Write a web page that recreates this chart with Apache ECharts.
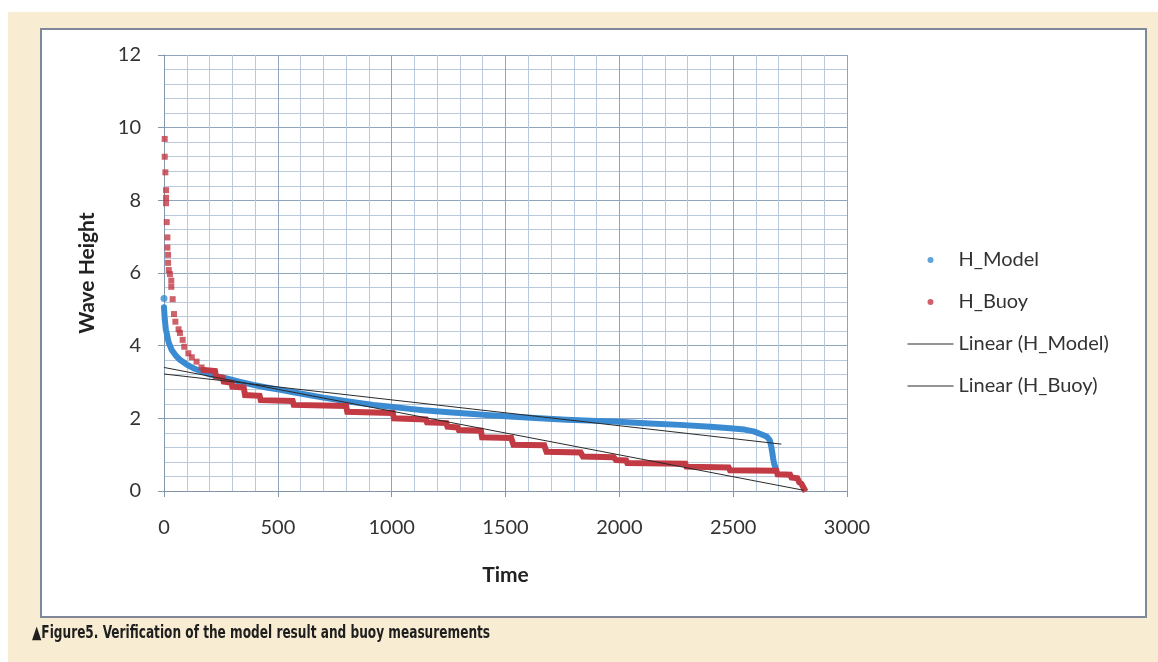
<!DOCTYPE html>
<html>
<head>
<meta charset="utf-8">
<script src="https://cdn.jsdelivr.net/npm/echarts@6/dist/echarts.min.js"></script>
<style>
html,body{margin:0;padding:0;background:#fff;}
#chart{width:1158px;height:662px;}
</style>
</head>
<body>
<div id="chart"></div>
<script>
// ---- data ----
const xTicks = [0, 500, 1000, 1500, 2000, 2500, 3000];
const yTicks = [0, 2, 4, 6, 8, 10, 12];

// H_Model (blue): isolated top point + dense sorted band (corner points)
const modelPeaks = [[0, 5.30]];
const modelBand = [
  [0,5.06],[3,4.75],[8,4.45],[12,4.34],[20,4.10],[34,3.88],[50,3.74],[70,3.61],
  [100,3.48],[129,3.38],[160,3.30],[187,3.24],[230,3.16],[275,3.10],[330,3.01],
  [392,2.92],[450,2.85],[506,2.79],[568,2.72],[700,2.57],[802,2.47],[919,2.37],
  [1007,2.31],[1080,2.26],[1139,2.22],[1250,2.17],[1329,2.13],[1417,2.09],
  [1519,2.05],[1650,2.00],[1768,1.96],[1900,1.93],[1973,1.91],[2134,1.86],
  [2266,1.82],[2400,1.77],[2486,1.73],[2550,1.69],[2590,1.64],[2620,1.57],
  [2647,1.50],[2661,1.40],[2668,1.20],[2672,1.05],[2676,0.88],[2680,0.75],[2686,0.64]
];

// H_Buoy (red): sparse peak points + stepped band (corner points)
const buoyPeaks = [
  [3,9.69],[3,9.20],[6,8.77],[9,8.28],[9,8.07],[9,7.92],[12,7.40],[15,6.98],
  [15,6.70],[18,6.50],[18,6.28],[21,6.08],[26,5.97],[32,5.79],[32,5.62],[38,5.28],
  [44,4.87],[50,4.66],[64,4.45],[70,4.35],[82,4.16],[89,3.97],[107,3.79],[122,3.68],
  [143,3.56],[165,3.40]
];
const buoyBand = [
  [175,3.33],[224,3.30],[228,3.15],[258,3.12],[262,3.01],[297,2.98],[300,2.87],
  [350,2.85],[356,2.64],[420,2.62],[425,2.50],[565,2.48],[570,2.37],[800,2.34],
  [805,2.18],[1005,2.15],[1010,2.00],[1150,1.97],[1155,1.89],[1240,1.87],[1245,1.77],
  [1290,1.75],[1295,1.68],[1392,1.66],[1397,1.48],[1525,1.46],[1535,1.27],[1670,1.26],
  [1680,1.08],[1830,1.06],[1840,0.95],[1975,0.93],[1985,0.85],[2030,0.84],[2035,0.77],
  [2290,0.75],[2295,0.67],[2480,0.65],[2486,0.57],[2690,0.56],[2695,0.46],[2750,0.45],
  [2756,0.37],[2782,0.35],[2790,0.24],[2800,0.20],[2812,0.06]
];

// Linear trendlines (end points)
const modelTrend = [[0, 3.22], [2712, 1.29]];
const buoyTrend = [[0, 3.40], [2810, 0.02]];

const seriesNames = ['H_Model', 'H_Buoy', 'Linear (H_Model)', 'Linear (H_Buoy)'];
const captionText = '\u25B2Figure5. Verification of the model result and buoy measurements';

// ---- chart ----
const BLUE = '#3a8bd2';
const RED = '#c23a44';
const FONT = 'Lato, "Open Sans", sans-serif';

const chart = echarts.init(document.getElementById('chart'), null, {renderer: 'canvas'});
chart.setOption({
  animation: false,
  backgroundColor: '#ffffff',
  graphic: [
    {type: 'rect', z: -20, silent: true, shape: {x: 8, y: 12, width: 1150, height: 650}, style: {fill: '#f8edd3'}},
    {type: 'rect', z: -19, silent: true, shape: {x: 41, y: 29, width: 1105, height: 588}, style: {fill: '#ffffff', stroke: '#7f8899', lineWidth: 2}},
    {type: 'text', z: 10, x: 32, y: 624, scaleX: 0.75, originX: 0, originY: 0,
      style: {text: captionText, fill: '#1e1e1e',
      font: 'bold 18px "Liberation Sans Narrow", "DejaVu Sans Condensed", "Liberation Sans", sans-serif'}}
  ],
  grid: {left: 164, right: 311, top: 55, bottom: 171, containLabel: false},
  legend: {
    orient: 'vertical', left: 902, top: 245,
    itemWidth: 46, itemHeight: 6, itemGap: 22, itemTextGap: 5,
    textStyle: {fontFamily: FONT, fontSize: 20, color: '#333', lineHeight: 20},
    lineStyle: {width: 1},
    data: [
      {name: seriesNames[0], icon: 'circle'},
      {name: seriesNames[1], icon: 'circle'},
      {name: seriesNames[2], itemStyle: {opacity: 0}},
      {name: seriesNames[3], itemStyle: {opacity: 0}}
    ]
  },
  xAxis: {
    type: 'value', min: xTicks[0], max: xTicks[xTicks.length - 1], interval: 500,
    name: 'Time', nameLocation: 'middle', nameGap: 74,
    nameTextStyle: {fontFamily: FONT, fontSize: 21, fontWeight: 'bold', color: '#222'},
    axisLine: {show: true, lineStyle: {color: '#8496ab', width: 1}},
    axisTick: {show: true, length: 6, lineStyle: {color: '#8496ab'}},
    axisLabel: {fontFamily: FONT, fontSize: 20, color: '#333', margin: 27, formatter: v => String(v)},
    splitLine: {show: true, lineStyle: {color: '#90a5bd', width: 1}},
    minorTick: {show: false, splitNumber: 5},
    minorSplitLine: {show: true, lineStyle: {color: '#b8c9db', width: 1}}
  },
  yAxis: {
    type: 'value', min: yTicks[0], max: yTicks[yTicks.length - 1], interval: 2,
    name: 'Wave Height', nameLocation: 'middle', nameGap: 66,
    nameTextStyle: {fontFamily: FONT, fontSize: 21, fontWeight: 'bold', color: '#222'},
    axisLine: {show: true, lineStyle: {color: '#8496ab', width: 1}},
    axisTick: {show: true, length: 6, lineStyle: {color: '#8496ab'}},
    axisLabel: {fontFamily: FONT, fontSize: 20, color: '#333', margin: 23, formatter: v => String(v)},
    splitLine: {show: true, lineStyle: {color: '#90a5bd', width: 1}},
    minorTick: {show: false, splitNumber: 5},
    minorSplitLine: {show: true, lineStyle: {color: '#b8c9db', width: 1}}
  },
  series: [
    {name: seriesNames[0], type: 'scatter', data: modelPeaks, symbol: 'circle', symbolSize: 7,
      itemStyle: {color: BLUE}, z: 3},
    {name: seriesNames[0], type: 'line', data: modelBand, showSymbol: false, symbol: 'none',
      lineStyle: {color: BLUE, width: 6, cap: 'round', join: 'round'}, itemStyle: {color: BLUE}, z: 3},
    {name: seriesNames[1], type: 'scatter', data: buoyPeaks, symbol: 'rect', symbolSize: 6,
      itemStyle: {color: RED}, z: 4},
    {name: seriesNames[1], type: 'line', data: buoyBand, showSymbol: false, symbol: 'none',
      lineStyle: {color: RED, width: 6, cap: 'square', join: 'miter'}, itemStyle: {color: RED}, z: 4},
    {name: seriesNames[2], type: 'line', data: modelTrend, showSymbol: false, symbol: 'none',
      lineStyle: {color: '#2a2a2a', width: 1}, itemStyle: {color: '#2a2a2a'}, z: 5},
    {name: seriesNames[3], type: 'line', data: buoyTrend, showSymbol: false, symbol: 'none',
      lineStyle: {color: '#2a2a2a', width: 1}, itemStyle: {color: '#2a2a2a'}, z: 5}
  ]
});
</script>
</body>
</html>
